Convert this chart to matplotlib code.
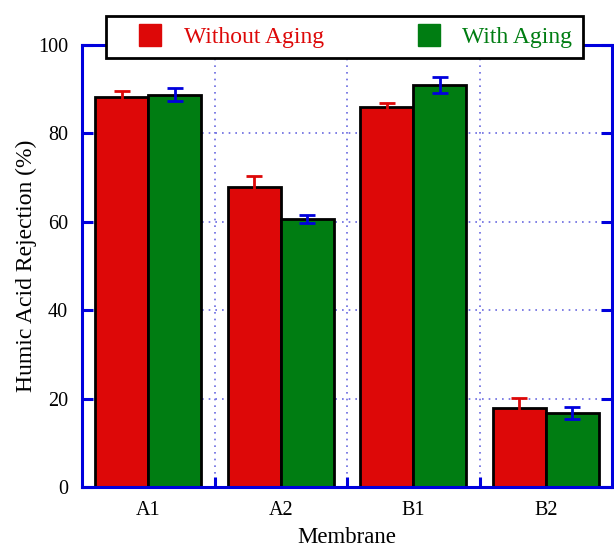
import matplotlib
matplotlib.use("Agg")
import matplotlib.pyplot as plt
import numpy as np
from matplotlib.lines import Line2D

membranes = ["A1", "A2", "B1", "B2"]
without_aging = [88.2, 67.8, 85.9, 17.9]
without_err = [1.5, 2.6, 1.0, 2.3]
with_aging = [88.8, 60.6, 90.9, 16.7]
with_err = [1.4, 0.9, 1.8, 1.4]
y_ticks = [0, 20, 40, 60, 80, 100]

RED = "#dd0808"
GREEN = "#007d12"
BLUE = "#0000dd"

plt.rcParams["font.family"] = ["Liberation Serif", "DejaVu Serif"]

fig = plt.figure(figsize=(6.14, 5.47), dpi=100)
ax = fig.add_axes([82 / 614, 60 / 547, 530 / 614, 442 / 547])

x = np.arange(1, len(membranes) + 1)
w = 0.4
ax.bar(x - w / 2, without_aging, w, color=RED, edgecolor="black", linewidth=2, zorder=3)
ax.bar(x + w / 2, with_aging, w, color=GREEN, edgecolor="black", linewidth=2, zorder=3)
ax.errorbar(x - w / 2, without_aging, yerr=without_err, fmt="none", ecolor=RED,
            elinewidth=2, capsize=6, capthick=2, zorder=4)
ax.errorbar(x + w / 2, with_aging, yerr=with_err, fmt="none", ecolor=BLUE,
            elinewidth=2, capsize=6, capthick=2, zorder=4)

ax.set_xlim(0.5, len(membranes) + 0.5)
ax.set_ylim(0, 100)
ax.set_yticks(y_ticks)
ax.set_xticks(x)
ax.set_xticklabels(membranes)
ax.set_xticks(x[:-1] + 0.5, minor=True)

for s in ax.spines.values():
    s.set_color(BLUE)
    s.set_linewidth(2.2)
    s.set_zorder(5)

ax.tick_params(axis="x", which="major", length=0, labelsize=14.5, pad=10)
ax.tick_params(axis="x", which="minor", direction="in", length=7, width=2.2, color=BLUE)
ax.tick_params(axis="y", direction="in", length=8, width=2.2, color=BLUE,
               right=True, labelsize=14.5, pad=10)

ax.grid(True, axis="y", which="major", color="#6a6ae0", linestyle=(0, (1, 3)),
        linewidth=1.2, zorder=1)
ax.grid(True, axis="x", which="minor", color="#6a6ae0", linestyle=(0, (1, 3)),
        linewidth=1.2, zorder=1)

ax.set_xlabel("Membrane", fontsize=16.5, labelpad=5)
ax.set_ylabel("Humic Acid Rejection (%)", fontsize=17, labelpad=1)

handles = [
    Line2D([], [], marker="s", linestyle="none", markersize=16, color=RED),
    Line2D([], [], marker="s", linestyle="none", markersize=16, color=GREEN),
]
leg = ax.legend(handles, ["Without Aging", "With Aging"], ncol=2, mode="expand",
                loc="center", bbox_to_anchor=(0.045, 0.968, 0.9, 0.1),
                fontsize=17, frameon=True, fancybox=False, framealpha=1,
                edgecolor="black", handlelength=2.85, handletextpad=0.0,
                borderpad=0.45, borderaxespad=0)
leg.get_frame().set_linewidth(2)
leg.set_zorder(10)
for t, c in zip(leg.get_texts(), [RED, GREEN]):
    t.set_color(c)

fig.savefig("out.png", dpi=100)
